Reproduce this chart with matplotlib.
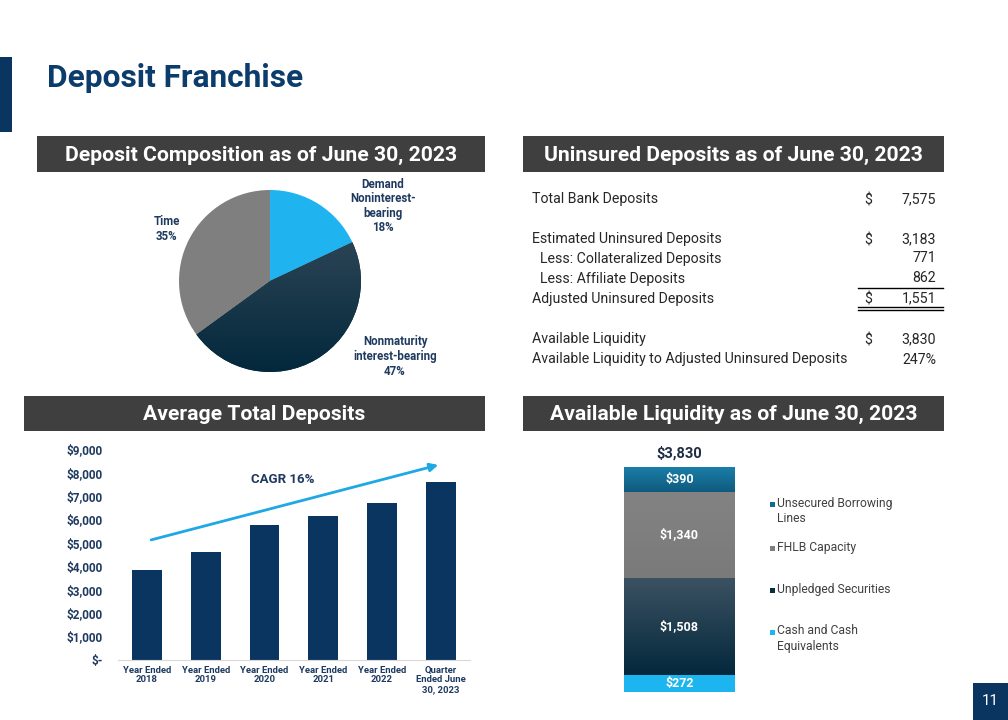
import matplotlib
matplotlib.use('Agg')
import matplotlib.pyplot as plt
import numpy as np
from matplotlib.patches import Rectangle
from matplotlib.colors import LinearSegmentedColormap

plt.rcParams['font.family'] = ['Roboto', 'DejaVu Sans']

# ---------------- data ----------------
pie_labels = ['Demand\nNoninterest-\nbearing', 'Nonmaturity\ninterest-bearing', 'Time']
pie_values = [18, 47, 35]

table_labels = ['Total Bank Deposits', 'Estimated Uninsured Deposits',
                '  Less: Collateralized Deposits', '  Less: Affiliate Deposits',
                'Adjusted Uninsured Deposits', 'Available Liquidity',
                'Available Liquidity to Adjusted Uninsured Deposits']
table_dollar = [True, True, False, False, True, True, False]
table_values = ['7,575', '3,183', '771', '862', '1,551', '3,830', '247%']

periods = ['Year Ended\n2018', 'Year Ended\n2019', 'Year Ended\n2020',
           'Year Ended\n2021', 'Year Ended\n2022', 'Quarter\nEnded June\n30, 2023']
avg_deposits = [3850, 4620, 5770, 6150, 6720, 7600]
cagr_label = 'CAGR 16%'

liq_labels = ['Cash and Cash\nEquivalents', 'Unpledged Securities',
              'FHLB Capacity', 'Unsecured Borrowing\nLines']
liq_values = [272, 1508, 1340, 390]
liq_total = 3830

# ---------------- style ----------------
NAVY = '#0b3561'
TITLE = '#0b3c6b'
LBL = '#1f3a60'
HDR = '#3f3f3f'
TXT = '#262626'

W, H = 1008, 720
fig = plt.figure(figsize=(W / 100, H / 100), dpi=100)
fig.patch.set_facecolor('white')


def ax_px(x0, y0, x1, y1):
    return fig.add_axes([x0 / W, 1 - y1 / H, (x1 - x0) / W, (y1 - y0) / H])


def grad_fill(ax, patch, c_top, c_bot, extent):
    cmap = LinearSegmentedColormap.from_list('g', [c_bot, c_top])
    grad = np.linspace(0, 1, 256).reshape(-1, 1)
    im = ax.imshow(grad, cmap=cmap, extent=extent, origin='lower',
                   aspect='auto', zorder=patch.get_zorder() + 0.1,
                   interpolation='bilinear')
    im.set_clip_path(patch)
    return im


bg = ax_px(0, 0, W, H)
bg.set_xlim(0, W)
bg.set_ylim(H, 0)
bg.axis('off')

# title + accent
bg.add_patch(Rectangle((0, 57), 12, 75, color='#0b3561', lw=0))
bg.text(47, 78, 'Deposit Franchise', fontsize=22.8, fontweight='bold',
        color=TITLE, va='center', ha='left')

# section headers
headers = [((37, 136, 485, 172), 'Deposit Composition as of June 30, 2023'),
           ((523, 136, 944, 172), 'Uninsured Deposits as of June 30, 2023'),
           ((24, 396, 485, 431), 'Average Total Deposits'),
           ((523, 396, 944, 431), 'Available Liquidity as of June 30, 2023')]
for (x0, y0, x1, y1), t in headers:
    bg.add_patch(Rectangle((x0, y0), x1 - x0, y1 - y0, color=HDR, lw=0))
    bg.text((x0 + x1) / 2, (y0 + y1) / 2 + 1, t, fontsize=15.2, fontweight='bold',
            color='white', ha='center', va='center')

# page number
bg.add_patch(Rectangle((973, 683), 35, 37, color='#0b3561', lw=0))
bg.text(990.5, 701, '11', color='white', fontsize=11, ha='center', va='center')

# ---------------- pie ----------------
pax = ax_px(179, 190, 361, 372)
pie_colors = ['#1fb4ef', '#0a2d42', '#7f7f7f']
wedges, _ = pax.pie(pie_values, colors=pie_colors, startangle=90,
                    counterclock=False, radius=1,
                    wedgeprops=dict(linewidth=0))
grad_fill(pax, wedges[1], '#3a4f5e', '#03283c', [-1, 1, -1, 1])
pax.set_xlim(-1, 1)
pax.set_ylim(-1, 1)
pax.axis('off')

pie_label_pos = [(383, 206), (395, 356.5), (167, 229)]
for (x, y), lab, v in zip(pie_label_pos, pie_labels, pie_values):
    bg.text(x, y, f'{lab}\n{v}%', fontsize=8.3, fontweight='bold', color=LBL,
            ha='center', va='center', linespacing=1.16)

# ---------------- table ----------------
row_y = [199, 239, 258, 278, 298, 339, 359]
for y, lab, d, val in zip(row_y, table_labels, table_dollar, table_values):
    x = 532
    if lab.startswith('  '):
        x = 540
        lab = lab.strip()
    yb = y + 4.5
    bg.text(x, yb, lab, fontsize=10.2, color=TXT, ha='left', va='baseline')
    if d:
        bg.text(868, yb + 1, '$', fontsize=10.2, color=TXT, ha='center', va='baseline')
    bg.text(936, yb, val, fontsize=10.2, color=TXT, ha='right', va='baseline')
bg.plot([858, 943], [287.5, 287.5], color='black', lw=1)
bg.plot([858, 943], [307.3, 307.3], color='black', lw=1)
bg.plot([858, 943], [309.7, 309.7], color='black', lw=1)

# ---------------- average total deposits ----------------
bax = ax_px(117.7, 449.3, 470, 660)
xpos = np.arange(len(periods))
bax.bar(xpos, avg_deposits, width=0.51, color=NAVY, zorder=2)
bax.set_xlim(-0.5, 5.5)
bax.set_ylim(0, 9000)
bax.set_yticks(np.arange(0, 9001, 1000))
bax.set_yticklabels(['$-' if v == 0 else f'${v:,.0f}' for v in np.arange(0, 9001, 1000)])
bax.set_xticks(xpos)
bax.set_xticklabels(periods, linespacing=1.1)
for s in ['top', 'right', 'left']:
    bax.spines[s].set_visible(False)
bax.spines['bottom'].set_color('#d9d9d9')
bax.tick_params(axis='both', length=0)
bax.tick_params(axis='y', pad=11, labelsize=8.5, labelcolor=LBL)
bax.tick_params(axis='x', pad=4, labelsize=6.8, labelcolor=LBL)
for t in bax.get_yticklabels() + bax.get_xticklabels():
    t.set_fontweight('bold')
bax.set_facecolor('none')
bax.annotate('', xy=(4.96, 8330), xytext=(0.07, 5130),
             arrowprops=dict(arrowstyle='-|>', color='#1fa8e3', lw=2,
                             mutation_scale=12, shrinkA=0, shrinkB=0))
bax.text(2.31, 7690, cagr_label, fontsize=9.5, fontweight='bold', color=LBL,
         ha='center', va='center')

# ---------------- available liquidity ----------------
sax = ax_px(624, 467, 735, 692)
seg_colors = ['#1db5ef', '#0a2d42', '#7f7f7f', '#156a92']
seg_grad = [None, ('#3b5262', '#04283c'), ('#838383', '#7a7a7a'), ('#1b7ea8', '#0f5a7e')]
bottom = 0
for v, c, g in zip(liq_values, seg_colors, seg_grad):
    r = sax.bar(0, v, bottom=bottom, width=1, color=c, linewidth=0)[0]
    if g is not None:
        grad_fill(sax, r, g[0], g[1], [-0.5, 0.5, bottom, bottom + v])
    sax.text(0, bottom + v / 2, f'${v:,}', color='white', fontsize=9,
             fontweight='bold', ha='center', va='center', zorder=5)
    bottom += v
sax.set_xlim(-0.5, 0.5)
sax.set_ylim(0, bottom)
sax.axis('off')
sax.annotate(f'${liq_total:,}', xy=(0, bottom), xytext=(0, 9.5),
             textcoords='offset points', ha='center', va='center',
             fontsize=10.5, fontweight='bold', color='#1f2d44',
             annotation_clip=False)

# legend (top entry first)
leg_y = [504, 548, 590, 632]
for y, lab, c in zip(leg_y, liq_labels[::-1], seg_colors[::-1]):
    bg.add_patch(Rectangle((769.5, y - 2.5), 5, 5, color=c, lw=0))
    bg.text(777, y - 7.5, lab, fontsize=8.7, color='#404040', ha='left',
            va='top', linespacing=1.25)

fig.savefig('out.png', dpi=100, facecolor='white')
